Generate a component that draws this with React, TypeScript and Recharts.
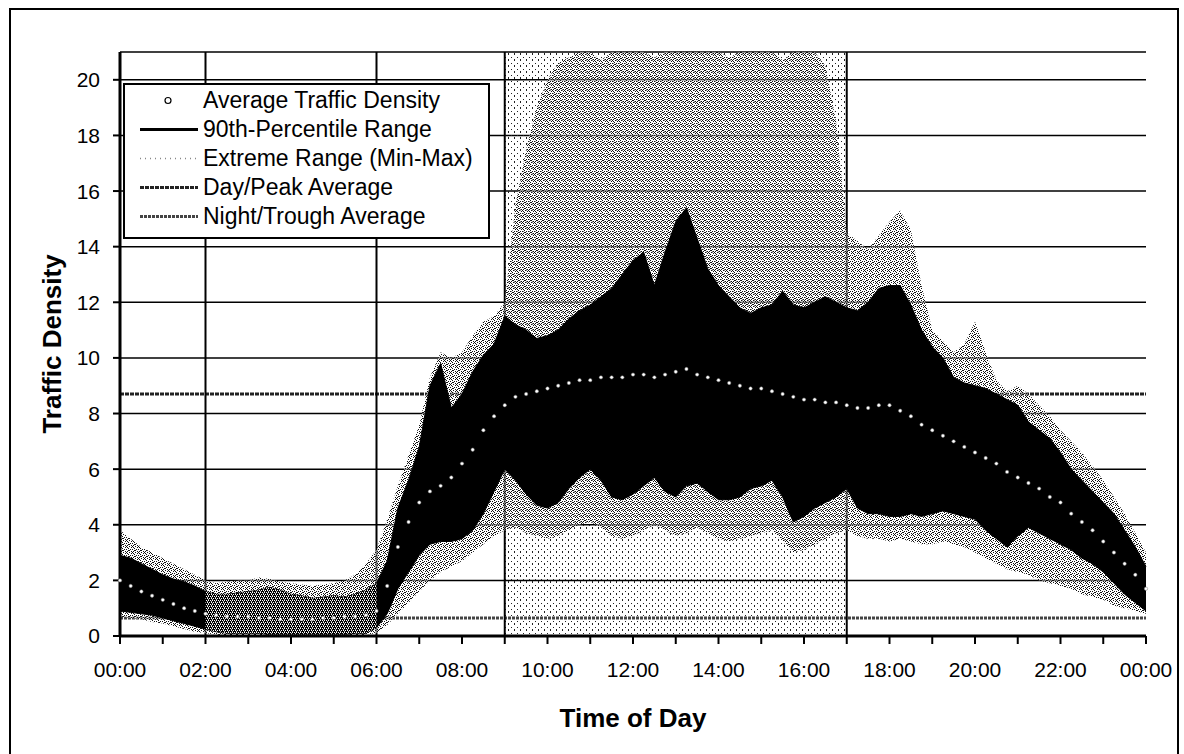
import {
  Area,
  CartesianGrid,
  ComposedChart,
  Legend,
  Line,
  ReferenceArea,
  ReferenceLine,
  XAxis,
  YAxis,
} from 'recharts'

// 15-minute samples, 00:00 .. 24:00 (97 values, one row per hour)
const extremeMax = [
  3.8, 3.5, 3.2, 3.0,
  2.8, 2.6, 2.4, 2.2,
  2.0, 1.9, 1.95, 2.0,
  2.0, 2.1, 2.05, 1.95,
  1.9, 1.85, 1.8, 1.85,
  1.9, 2.0, 2.2, 2.6,
  3.1, 4.2, 5.4, 6.5,
  7.6, 9.3, 10.2, 10.0,
  10.2, 10.8, 11.3, 11.5,
  12.0, 15.5, 17.5, 19.0,
  20.0, 20.6, 20.8, 21,
  21, 20.7, 21, 21,
  21, 21, 20.8, 21,
  21, 21, 21, 21,
  21, 20.8, 21, 21,
  21, 21, 20.7, 21,
  21, 21, 20.5, 18.5,
  14.5, 14.2, 13.9, 14.4,
  14.9, 15.3, 14.6, 12.6,
  11.0, 10.6, 10.2, 10.5,
  11.3, 10.2, 9.2, 8.8,
  9.0, 8.7, 8.3, 7.9,
  7.4, 7.0, 6.6, 6.1,
  5.6, 5.0, 4.4, 3.7,
  3.0,
]

const upper90 = [
  2.9, 2.8, 2.6, 2.4,
  2.2, 2.05, 1.95, 1.8,
  1.6, 1.5, 1.5, 1.55,
  1.6, 1.65, 1.75, 1.65,
  1.5, 1.45, 1.35, 1.4,
  1.45, 1.4, 1.5, 1.65,
  1.9, 2.7, 4.6, 5.6,
  6.8, 9.0, 9.8, 8.2,
  8.7, 9.5, 10.1, 10.5,
  11.5, 11.2, 11.0, 10.7,
  10.8, 11.0, 11.4, 11.7,
  11.9, 12.2, 12.5, 13.0,
  13.5, 13.8, 12.6, 13.8,
  14.9, 15.4, 14.3, 13.2,
  12.6, 12.2, 11.8, 11.6,
  11.8, 11.9, 12.4, 11.9,
  11.8, 12.0, 12.2, 12.0,
  11.8, 11.7, 12.0, 12.5,
  12.6, 12.6, 11.9, 11.0,
  10.4, 10.0, 9.3, 9.1,
  9.0, 8.9, 8.7, 8.5,
  8.3, 7.7, 7.4, 7.1,
  6.6, 6.0, 5.6, 5.2,
  4.8, 4.4, 3.8, 3.2,
  2.5,
]

const averageDensity = [
  2.0, 1.8, 1.6, 1.45,
  1.3, 1.15, 1.0, 0.9,
  0.8, 0.75, 0.7, 0.7,
  0.7, 0.65, 0.65, 0.6,
  0.6, 0.6, 0.6, 0.65,
  0.65, 0.7, 0.7, 0.75,
  0.9, 1.8, 3.2, 4.1,
  4.8, 5.2, 5.4, 5.7,
  6.2, 6.7, 7.4, 7.9,
  8.3, 8.6, 8.7, 8.8,
  8.9, 9.0, 9.1, 9.2,
  9.2, 9.3, 9.3, 9.3,
  9.4, 9.4, 9.3, 9.4,
  9.5, 9.6, 9.4, 9.3,
  9.2, 9.1, 9.0, 8.9,
  8.9, 8.8, 8.7, 8.6,
  8.5, 8.5, 8.4, 8.4,
  8.3, 8.2, 8.2, 8.3,
  8.3, 8.1, 7.9, 7.6,
  7.4, 7.2, 7.0, 6.8,
  6.6, 6.4, 6.2, 5.9,
  5.7, 5.5, 5.3, 5.0,
  4.8, 4.4, 4.1, 3.8,
  3.4, 3.0, 2.6, 2.2,
  1.7,
]

const lower90 = [
  0.9, 0.85, 0.8, 0.75,
  0.65, 0.55, 0.45, 0.35,
  0.25, 0.15, 0.1, 0.1,
  0.1, 0.1, 0.05, 0.05,
  0.05, 0.05, 0.05, 0.05,
  0.05, 0.05, 0.1, 0.1,
  0.3, 0.8, 1.7, 2.3,
  2.9, 3.3, 3.4, 3.4,
  3.5, 3.8, 4.4, 5.2,
  6.0, 5.6, 5.1, 4.7,
  4.6, 4.8, 5.3, 5.7,
  6.0, 5.6, 5.0, 4.9,
  5.1, 5.4, 5.7, 5.2,
  5.0, 5.4, 5.5, 5.2,
  4.9, 4.9, 5.0, 5.3,
  5.4, 5.6, 5.0, 4.1,
  4.3, 4.6, 4.8, 5.0,
  5.3, 4.6, 4.4, 4.4,
  4.3, 4.3, 4.4, 4.3,
  4.4, 4.5, 4.4, 4.3,
  4.2, 3.8, 3.5, 3.2,
  3.6, 3.9, 3.7, 3.5,
  3.3, 3.1, 2.8, 2.6,
  2.3, 1.9, 1.5, 1.2,
  0.9,
]

const extremeMin = [
  0.7, 0.65, 0.6, 0.5,
  0.45, 0.35, 0.25, 0.15,
  0.1, 0.05, 0, 0,
  0, 0, 0, 0,
  0, 0, 0, 0,
  0, 0, 0, 0.05,
  0.1, 0.4, 0.8, 1.2,
  1.6, 2.0, 2.3, 2.5,
  2.7, 3.0, 3.3, 3.6,
  3.8, 3.9, 3.7, 3.6,
  3.5, 3.6, 3.8, 4.0,
  4.1, 3.9, 3.6, 3.5,
  3.6, 3.8, 4.0, 3.8,
  3.6, 3.7, 3.9, 3.7,
  3.5, 3.4, 3.5, 3.6,
  3.7, 3.8, 3.4, 3.0,
  3.1, 3.3, 3.5, 3.7,
  3.8, 3.6, 3.5, 3.5,
  3.4, 3.5, 3.4, 3.3,
  3.3, 3.4, 3.3, 3.2,
  3.0, 2.8, 2.6, 2.4,
  2.3, 2.2, 2.0, 1.9,
  1.8, 1.7, 1.5, 1.4,
  1.3, 1.1, 1.0, 0.9,
  0.8,
]

const hourTicks = [0, 1, 2, 3, 4, 5, 6, 7, 8, 9, 10, 11, 12, 13, 14, 15, 16, 17, 18, 19, 20, 21, 22, 23, 24]
const timeLabels = ['00:00', '02:00', '04:00', '06:00', '08:00', '10:00', '12:00', '14:00', '16:00', '18:00', '20:00', '22:00', '00:00']
const densityTicks = [0, 2, 4, 6, 8, 10, 12, 14, 16, 18, 20]
const periodBounds = [2, 6, 9, 17]
const peakPeriod = [9, 17]
const nightPeriod = [2, 6]
const dayPeakAverage = 8.7
const nightTroughAverage = 0.65

const legendLabels = [
  'Average Traffic Density',
  '90th-Percentile Range',
  'Extreme Range (Min-Max)',
  'Day/Peak Average',
  'Night/Trough Average',
]

const chartData = averageDensity.map((avg, i) => {
  const t = i / 4
  const inNight = t >= nightPeriod[0] && t <= nightPeriod[1]
  return {
    t,
    extreme: [extremeMin[i], extremeMax[i]],
    range90: [lower90[i], upper90[i]],
    night: inNight ? [lower90[i], upper90[i]] : null,
    avg,
  }
})

const FONT = "'Liberation Sans', Arial, Helvetica, sans-serif"

function LegendIcon({ index }: { index: number }) {
  const y = 14.5
  if (index === 0) return <circle cx={43} cy={y} r={3} fill="#fff" stroke="#000" strokeWidth={1.2} />
  if (index === 1) return <line x1={15} x2={73} y1={y} y2={y} stroke="#000" strokeWidth={3} />
  if (index === 2) return <line x1={15} x2={73} y1={y} y2={y} stroke="#888" strokeWidth={1.5} strokeDasharray="1 4" />
  if (index === 3) return <line x1={15} x2={73} y1={y} y2={y} stroke="#222" strokeWidth={3} strokeDasharray="4 1" />
  return <line x1={15} x2={73} y1={y} y2={y} stroke="#444" strokeWidth={3} strokeDasharray="3 1" />
}

function LegendBox() {
  return (
    <div
      style={{
        width: 363,
        height: 151,
        border: '2px solid #000',
        background: '#fff',
        paddingTop: 1,
        fontFamily: FONT,
        fontSize: 23,
        color: '#000',
      }}
    >
      {legendLabels.map((label, i) => (
        <div key={label} style={{ display: 'flex', alignItems: 'center', height: 29 }}>
          <svg width={78} height={29} style={{ flex: 'none' }}>
            <LegendIcon index={i} />
          </svg>
          <span style={{ whiteSpace: 'nowrap', lineHeight: '29px' }}>{label}</span>
        </div>
      ))}
    </div>
  )
}

export default function App() {
  return (
    <div
      style={{
        position: 'absolute',
        left: 0,
        top: 0,
        width: 1184,
        height: 754,
        background: '#fff',
        overflow: 'hidden',
        fontFamily: FONT,
      }}
    >
      <div
        style={{
          position: 'absolute',
          left: 9,
          top: 8,
          width: 1166,
          height: 800,
          border: '2px solid #000',
        }}
      />
      <div style={{ position: 'absolute', left: 0, top: 0 }}>
        <ComposedChart width={1184} height={754} data={chartData} margin={{ top: 52, right: 38, bottom: 18, left: 40 }}>
          <defs>
            <pattern id="extStipple" width="6" height="6" patternUnits="userSpaceOnUse">
              <rect width="6" height="6" fill="#fff" fillOpacity={0.45} />
              <rect x="0" y="0" width="1" height="1" fill="#111" />
              <rect x="3" y="0" width="1" height="1" fill="#111" />
              <rect x="1" y="1" width="1" height="1" fill="#111" />
              <rect x="5" y="1" width="1" height="1" fill="#111" />
              <rect x="2" y="2" width="1" height="1" fill="#111" />
              <rect x="0" y="3" width="1" height="1" fill="#111" />
              <rect x="4" y="3" width="1" height="1" fill="#111" />
              <rect x="2" y="4" width="1" height="1" fill="#111" />
              <rect x="3" y="4" width="1" height="1" fill="#111" />
              <rect x="1" y="5" width="1" height="1" fill="#111" />
              <rect x="5" y="5" width="1" height="1" fill="#111" />
            </pattern>
            <pattern id="peakStipple" width="6" height="6" patternUnits="userSpaceOnUse">
              <rect x="4" y="0" width="1" height="1" fill="#222" />
              <rect x="1" y="3" width="1" height="1" fill="#222" />
              <rect x="4" y="5" width="1" height="1" fill="#222" />
            </pattern>
            <pattern id="nightChecker" width="4" height="4" patternUnits="userSpaceOnUse">
              <rect x="0" y="0" width="1" height="1" fill="#fff" />
              <rect x="2" y="0" width="1" height="1" fill="#fff" />
              <rect x="1" y="2" width="1" height="1" fill="#fff" />
              <rect x="3" y="2" width="1" height="1" fill="#fff" />
              <rect x="3" y="1" width="1" height="1" fill="#bbb" />
              <rect x="0" y="3" width="1" height="1" fill="#bbb" />
            </pattern>
          </defs>

          <CartesianGrid vertical={false} stroke="#000" strokeWidth={1.5} />

          <ReferenceArea
            x1={peakPeriod[0]}
            x2={peakPeriod[1]}
            fill="url(#peakStipple)"
            fillOpacity={1}
            stroke="none"
            zIndex={-90}
          />
          <ReferenceLine y={dayPeakAverage} stroke="#222" strokeWidth={3} strokeDasharray="4 1" zIndex={50} />
          <ReferenceLine y={nightTroughAverage} stroke="#444" strokeWidth={3} strokeDasharray="3 1" zIndex={50} />
          {periodBounds.map((x) => (
            <ReferenceLine key={x} x={x} stroke="#000" strokeWidth={2} zIndex={50} />
          ))}

          <Area
            type="linear"
            dataKey="extreme"
            name="Extreme Range (Min-Max)"
            stroke="none"
            fill="url(#extStipple)"
            fillOpacity={1}
            isAnimationActive={false}
          />
          <Area
            type="linear"
            dataKey="range90"
            name="90th-Percentile Range"
            stroke="#000"
            strokeWidth={1}
            fill="#000"
            fillOpacity={1}
            isAnimationActive={false}
          />
          <Area
            type="linear"
            dataKey="night"
            stroke="none"
            fill="url(#nightChecker)"
            fillOpacity={1}
            legendType="none"
            isAnimationActive={false}
          />
          <Line
            type="linear"
            dataKey="avg"
            name="Average Traffic Density"
            stroke="none"
            dot={{ r: 1.7, fill: '#fff', stroke: '#777', strokeWidth: 0.5 }}
            activeDot={false}
            isAnimationActive={false}
          />

          <XAxis
            dataKey="t"
            type="number"
            domain={[0, 24]}
            ticks={hourTicks}
            interval={0}
            tickFormatter={(h: number) => (h % 2 === 0 ? timeLabels[h / 2] : '')}
            height={100}
            tickSize={8}
            tickMargin={18}
            tick={{ fontSize: 21, fill: '#000', fontFamily: FONT }}
            axisLine={{ stroke: '#000', strokeWidth: 3 }}
            tickLine={{ stroke: '#000', strokeWidth: 2 }}
            label={{
              value: 'Time of Day',
              position: 'insideBottom',
              offset: 9,
              style: { fontSize: 26, fontWeight: 'bold', fill: '#000', fontFamily: FONT },
            }}
          />
          <XAxis
            xAxisId="top"
            orientation="top"
            type="number"
            domain={[0, 24]}
            height={0}
            tick={false}
            tickLine={false}
            axisLine={{ stroke: '#000', strokeWidth: 3 }}
          />
          <YAxis
            type="number"
            domain={[0, 21]}
            ticks={densityTicks}
            interval={0}
            allowDataOverflow
            width={80}
            tickSize={7}
            tickMargin={13}
            tick={{ fontSize: 21, fill: '#000', fontFamily: FONT }}
            axisLine={{ stroke: '#000', strokeWidth: 3 }}
            tickLine={{ stroke: '#000', strokeWidth: 2 }}
            label={{
              value: 'Traffic Density',
              angle: -90,
              position: 'insideLeft',
              offset: 12,
              style: { textAnchor: 'middle', fontSize: 26, fontWeight: 'bold', fill: '#000', fontFamily: FONT },
            }}
          />
          <YAxis
            yAxisId="right"
            orientation="right"
            type="number"
            domain={[0, 21]}
            width={0}
            tick={false}
            tickLine={false}
            axisLine={{ stroke: '#000', strokeWidth: 3 }}
          />

          <Legend
            layout="vertical"
            align="center"
            verticalAlign="middle"
            content={() => <LegendBox />}
            wrapperStyle={{ left: 123, top: 83, width: 367, height: 155 }}
          />
        </ComposedChart>
      </div>
    </div>
  )
}
